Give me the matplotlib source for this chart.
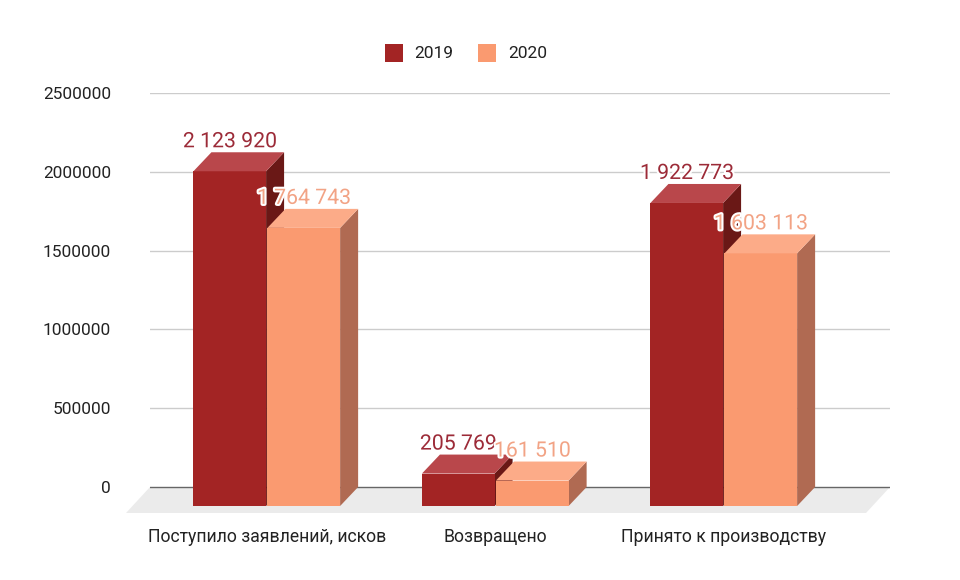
import matplotlib
matplotlib.use("Agg")
import matplotlib.pyplot as plt
from matplotlib.patches import Polygon, Rectangle
import matplotlib.patheffects as pe

plt.rcParams['font.family'] = ['Roboto', 'DejaVu Sans']

categories = ["Поступило заявлений, исков", "Возвращено", "Принято к производству"]
series_names = ["2019", "2020"]
values_2019 = [2123920, 205769, 1922773]
values_2020 = [1764743, 161510, 1603113]
labels_2019 = ["2 123 920", "205 769", "1 922 773"]
labels_2020 = ["1 764 743", "161 510", "1 603 113"]
yticks = [0, 500000, 1000000, 1500000, 2000000, 2500000]

W, H = 960, 580
fig = plt.figure(figsize=(W / 100, H / 100), dpi=100)
ax_l, ax_r, ax_t, ax_b = 150, 890, 93, 520
ax = fig.add_axes([ax_l / W, (H - ax_b) / H, (ax_r - ax_l) / W, (ax_b - ax_t) / H])

px_per_unit_y = 78.8 / 500000.0
ymax = 2500000
ymin = -(ax_b - 487) / px_per_unit_y
ax.set_ylim(ymin, ymax)
cat_px = 228.5
x_left = (ax_l - 267) / cat_px
x_right = (ax_r - 267) / cat_px
ax.set_xlim(x_left, x_right)

dx = 18 / cat_px
dy = 19 / px_per_unit_y
w = 0.318

for s in ax.spines.values():
    s.set_visible(False)

# floor
fdx = 24 / cat_px
fdy = 26 / px_per_unit_y
floor = Polygon([(x_left, 0), (x_right, 0), (x_right - fdx, -fdy), (x_left - fdx, -fdy)],
                closed=True, facecolor="#ebebeb", edgecolor="none", zorder=0, clip_on=False)
ax.add_patch(floor)

for t in yticks:
    ax.axhline(t, color="#cccccc" if t else "#666666", lw=1.0, zorder=0.5)

ax.set_yticks(yticks)
ax.set_yticklabels([str(t) for t in yticks])
ax.tick_params(axis='y', length=0, pad=28, labelsize=12.4, labelcolor="#222222")

ax.set_xticks(range(len(categories)))
ax.set_xticklabels(categories)
ax.tick_params(axis='x', length=0, pad=6, labelsize=12.7, labelcolor="#222222")

colors = {
    "2019": dict(front="#a32424", top="#b9474b", side="#6a1816", label="#9c2b38"),
    "2020": dict(front="#fa9a70", top="#fcab88", side="#b06a52", label="#f2a385"),
}

def bar3d(x0, v, c):
    x1 = x0 + w
    front = Polygon([(x0, -dy), (x1, -dy), (x1, v - dy), (x0, v - dy)], closed=True,
                    facecolor=c["front"], edgecolor="none", zorder=2)
    top = Polygon([(x0, v - dy), (x1, v - dy), (x1 + dx, v), (x0 + dx, v)], closed=True,
                  facecolor=c["top"], edgecolor="none", zorder=2)
    side = Polygon([(x1, -dy), (x1 + dx, 0), (x1 + dx, v), (x1, v - dy)], closed=True,
                   facecolor=c["side"], edgecolor="none", zorder=2)
    for p in (side, front, top):
        ax.add_patch(p)

off = 5 / px_per_unit_y
for i in range(len(categories)):
    x19 = i - 0.322
    x20 = i + 0.002
    bar3d(x19, values_2019[i], colors["2019"])
    bar3d(x20, values_2020[i], colors["2020"])

for i in range(len(categories)):
    x19 = i - 0.322
    x20 = i + 0.002
    ax.text(x19 + w / 2, values_2019[i] + off, labels_2019[i], ha='center', va='baseline',
            fontsize=15.3, color=colors["2019"]["label"], zorder=5,
            path_effects=[pe.withStroke(linewidth=3, foreground="white")])
    ax.text(x20 + w / 2, values_2020[i] + off, labels_2020[i], ha='center', va='baseline',
            fontsize=15.3, color=colors["2020"]["label"], zorder=5,
            path_effects=[pe.withStroke(linewidth=3, foreground="white")])

# legend
for name, sx, tx in (("2019", 385, 414), ("2020", 478, 508)):
    fig.patches.append(Rectangle((sx / W, (H - 62) / H), 18 / W, 18 / H,
                                 transform=fig.transFigure, facecolor=colors[name]["front"],
                                 edgecolor="none"))
    fig.text(tx / W, (H - 53) / H, name, ha='left', va='center', fontsize=12.5, color="#222222")

fig.savefig("out.png", dpi=100, facecolor="white")
